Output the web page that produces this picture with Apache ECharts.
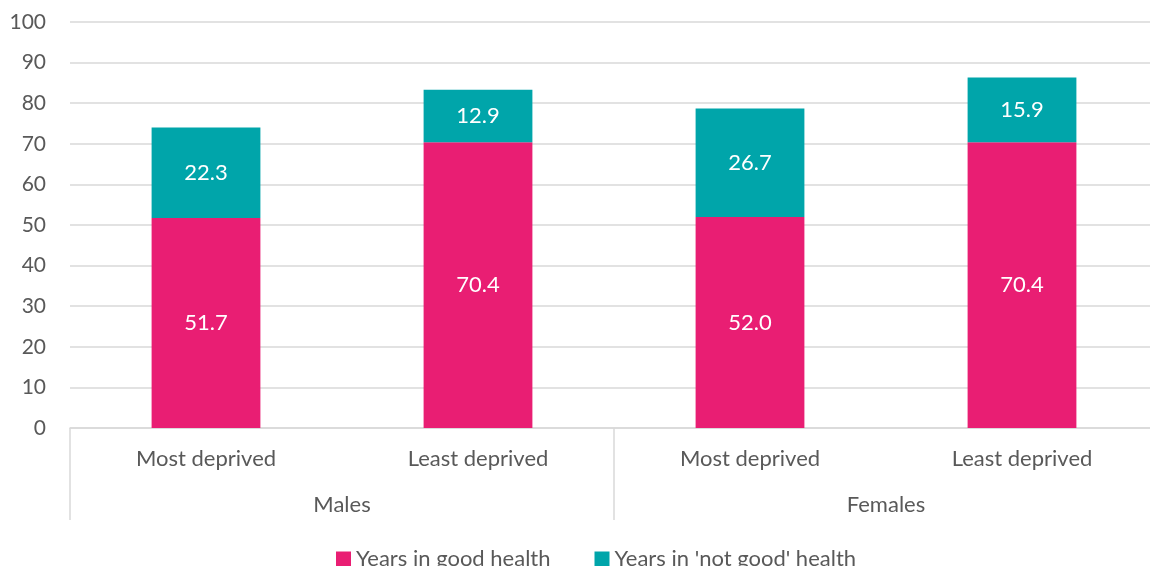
<!DOCTYPE html>
<html><head><meta charset="utf-8">
<script src="https://cdn.jsdelivr.net/npm/echarts@6/dist/echarts.min.js"></script>
<style>html,body{margin:0;padding:0;background:#fff}#c{width:1150px;height:566px}</style>
</head><body><div id="c"></div>
<script>
const categories = ['Most deprived','Least deprived','Most deprived','Least deprived'];
const groups = ['Males','Females'];
const goodHealth = [51.7, 70.4, 52.0, 70.4];
const notGoodHealth = [22.3, 12.9, 26.7, 15.9];
const seriesNames = ['Years in good health', "Years in 'not good' health"];
const yTicks = {min: 0, max: 100, interval: 10};

const FONT = 'Lato';
const TXT = '#595959';
const chart = echarts.init(document.getElementById('c'));
chart.setOption({
  animation: false,
  textStyle: {fontFamily: FONT},
  grid: {left: 70, width: 1088, top: 22, height: 406, outerBoundsMode: 'none', containLabel: false},
  legend: {
    bottom: -9, left: 331, itemWidth: 15, itemHeight: 15, itemGap: 44,
    icon: 'rect',
    textStyle: {fontFamily: FONT, fontSize: 22, color: TXT},
    data: seriesNames
  },
  xAxis: [{
    type: 'category', data: categories, position: 'bottom',
    axisLine: {lineStyle: {color: '#D9D9D9', width: 1.5}},
    axisTick: {show: false},
    axisLabel: {fontFamily: FONT, fontSize: 22, color: TXT, margin: 20}
  }, {
    type: 'category', data: groups, position: 'bottom',
    axisLine: {show: false},
    axisTick: {show: true, length: 92, interval: 0, lineStyle: {color: '#D9D9D9', width: 1.5}},
    axisLabel: {fontFamily: FONT, fontSize: 22, color: TXT, margin: 66}
  }],
  yAxis: {
    type: 'value', min: yTicks.min, max: yTicks.max, interval: yTicks.interval,
    axisLine: {show: false}, axisTick: {show: false},
    splitLine: {lineStyle: {color: '#D9D9D9', width: 1.5}},
    axisLabel: {fontFamily: FONT, fontSize: 21, color: TXT, margin: 24}
  },
  series: [{
    name: seriesNames[0], type: 'bar', stack: 's', data: goodHealth, barWidth: '40%',
    itemStyle: {color: '#E91E73'},
    label: {show: true, position: 'inside', color: '#fff', fontSize: 22, fontFamily: FONT,
      formatter: p => p.value.toFixed(1)}
  }, {
    name: seriesNames[1], type: 'bar', stack: 's', data: notGoodHealth, barWidth: '40%',
    itemStyle: {color: '#00A5AA'},
    label: {show: true, position: 'inside', color: '#fff', fontSize: 22, fontFamily: FONT,
      formatter: p => p.value.toFixed(1)}
  }]
});
</script></body></html>
